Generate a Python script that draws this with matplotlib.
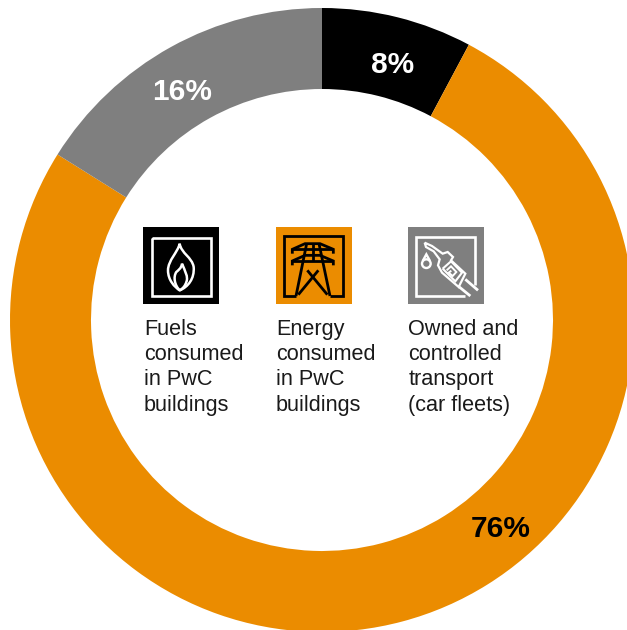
import matplotlib
matplotlib.use("Agg")
import matplotlib.pyplot as plt
from matplotlib.patches import Rectangle, PathPatch, Circle
from matplotlib.path import Path

categories = ["Fuels\nconsumed\nin PwC\nbuildings", "Energy\nconsumed\nin PwC\nbuildings",
              "Owned and\ncontrolled\ntransport\n(car fleets)"]
values = [7.8, 76.1, 16.1]
value_labels = ["8%", "76%", "16%"]
colors = ["#000000", "#EB8C00", "#7F7F7F"]

W, H = 627, 630
plt.rcParams["font.family"] = ["Liberation Sans", "DejaVu Sans"]
fig = plt.figure(figsize=(W / 100, H / 100), dpi=100)
ax = fig.add_axes([0, 0, 1, 1])
ax.pie(values, colors=colors, startangle=90, counterclock=False, center=(322, H - 320),
       radius=312, wedgeprops=dict(width=81, linewidth=0), frame=False)
ax.set_xlim(0, W)
ax.set_ylim(0, H)
ax.set_aspect("equal")
ax.axis("off")

Y = lambda y: H - y

# value labels
ax.text(393, Y(65), value_labels[0], color="white", fontsize=21.5, fontweight="bold", ha="center", va="center")
ax.text(501, Y(529), value_labels[1], color="black", fontsize=21.5, fontweight="bold", ha="center", va="center")
ax.text(182, Y(92), value_labels[2], color="white", fontsize=21.5, fontweight="bold", ha="center", va="center")

# category labels
for x, c in zip([144, 276, 408.5], categories):
    ax.text(x, Y(319), c, color="#1a1a1a", fontsize=15.6, ha="left", va="top", linespacing=1.265)


def line(o, pts, color, lw=2.0):
    ax.plot([o[0] + p[0] / 3 for p in pts], [Y(o[1] + p[1] / 3) for p in pts], color=color, lw=lw,
            solid_capstyle="butt", solid_joinstyle="miter", zorder=4)


def curve(o, pts, color, lw=1.8):
    codes = [Path.MOVETO] + [Path.CURVE4] * (len(pts) - 1)
    verts = [(o[0] + p[0] / 3, Y(o[1] + p[1] / 3)) for p in pts]
    ax.add_patch(PathPatch(Path(verts, codes), fc="none", ec=color, lw=lw, zorder=4))


# icon backgrounds
for x, c in zip([143, 276, 408], colors):
    ax.add_patch(Rectangle((x, Y(304)), 76, 77, fc=c, ec="none", zorder=3))

# flame icon
o = (138, 222)
line(o, [(42, 47), (218, 47), (218, 222), (42, 222), (42, 47)], "white", 1.9)
curve(o, [(125, 65), (120, 90), (90, 115), (90, 145), (90, 175), (110, 195), (125, 205),
          (150, 195), (170, 170), (167, 135), (162, 105), (130, 95), (125, 65)], "white")
curve(o, [(125, 205), (110, 190), (105, 165), (115, 150), (120, 145), (130, 140), (132, 125),
          (140, 145), (152, 165), (145, 180), (142, 190), (135, 200), (125, 205)], "white")

# pylon icon
o = (270, 222)
k = "black"
line(o, [(78, 222), (42, 222), (42, 43), (220, 43), (220, 222), (180, 222)], k)
for top in (65, 100):
    line(o, [(67, top + 30), (67, top + 17), (105, top), (150, top), (190, top + 17), (190, top + 30)], k)
    line(o, [(67, top + 17), (190, top + 17)], k)
line(o, [(110, 65), (78, 222)], k)
line(o, [(147, 65), (180, 222)], k)
line(o, [(128, 65), (128, 118)], k)
line(o, [(112, 145), (172, 218)], k)
line(o, [(145, 145), (85, 218)], k)

# fuel pump icon
o = (402, 222)
w = "white"
line(o, [(190, 222), (42, 222), (42, 45), (220, 45), (220, 190)], w, 1.9)
line(o, [(68, 62), (90, 72), (122, 95), (137, 90), (153, 105), (147, 115), (190, 155), (170, 195),
         (120, 152), (108, 130), (113, 112), (95, 88), (72, 75), (68, 62)], w, 1.6)
line(o, [(122, 140), (147, 118), (180, 152), (160, 178), (122, 140)], w, 1.5)
line(o, [(134, 145), (147, 133), (163, 150), (152, 162), (140, 152), (148, 146)], w, 1.4)
line(o, [(172, 195), (205, 222)], w, 2.0)
line(o, [(190, 172), (228, 205)], w, 2.0)
ax.add_patch(Circle((o[0] + 73 / 3, Y(o[1] + 125 / 3)), 13 / 3, fc="none", ec=w, lw=1.7, zorder=4))
line(o, [(62, 117), (73, 97), (84, 117)], w, 1.7)

fig.savefig("out.png", dpi=100)
